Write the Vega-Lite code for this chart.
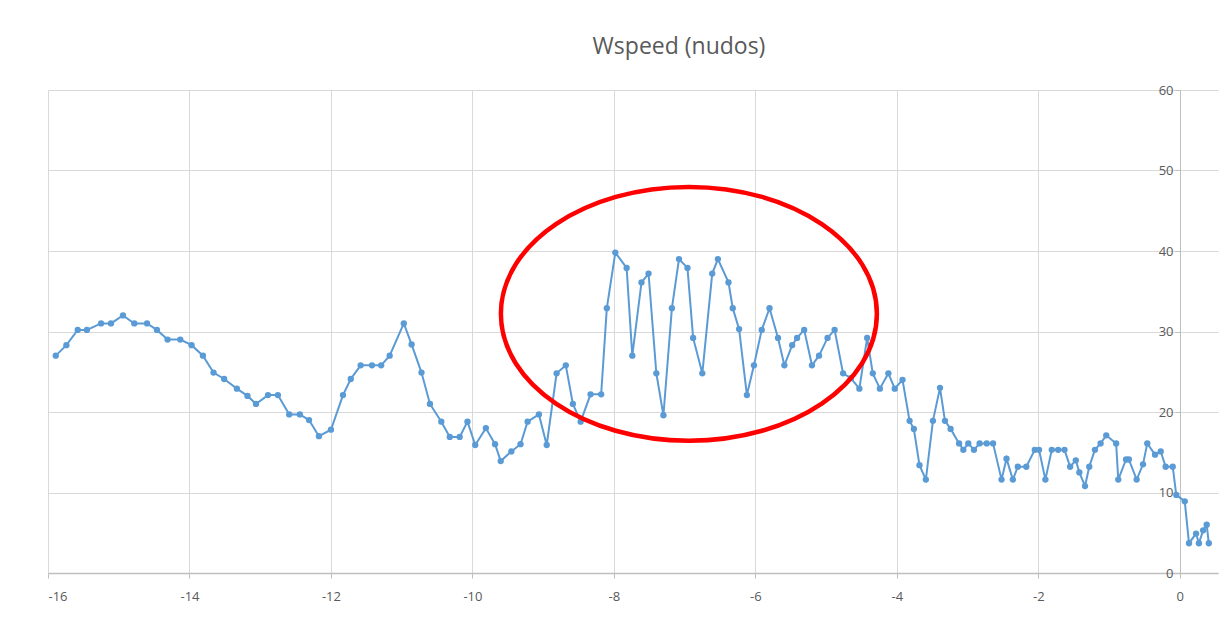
{
  "$schema": "https://vega.github.io/schema/vega-lite/v6.json",
  "width": 1170,
  "height": 483,
  "autosize": {"type": "none"},
  "padding": {"left": 48, "top": 90, "right": 5, "bottom": 45},
  "background": "white",
  "title": {"text": "Wspeed (nudos)", "fontSize": 23, "font": "Open Sans", "fontWeight": "normal", "color": "#595959", "offset": 25, "dx": 46},
  "config": {"view": {"stroke": null}},
  "datasets": {
    "wind": [
      {"t": -15.89, "v": 27.0}, {"t": -15.74, "v": 28.3}, {"t": -15.58, "v": 30.2}, {"t": -15.45, "v": 30.2},
      {"t": -15.25, "v": 31.0}, {"t": -15.11, "v": 31.0}, {"t": -14.94, "v": 32.0}, {"t": -14.78, "v": 31.0},
      {"t": -14.60, "v": 31.0}, {"t": -14.46, "v": 30.2}, {"t": -14.31, "v": 29.0}, {"t": -14.13, "v": 29.0},
      {"t": -13.97, "v": 28.3}, {"t": -13.81, "v": 27.0}, {"t": -13.66, "v": 24.9}, {"t": -13.51, "v": 24.1},
      {"t": -13.33, "v": 22.9}, {"t": -13.18, "v": 22.0}, {"t": -13.06, "v": 21.0}, {"t": -12.89, "v": 22.1},
      {"t": -12.75, "v": 22.1}, {"t": -12.59, "v": 19.7}, {"t": -12.44, "v": 19.7}, {"t": -12.31, "v": 19.0},
      {"t": -12.17, "v": 17.0}, {"t": -12.00, "v": 17.8}, {"t": -11.83, "v": 22.1}, {"t": -11.72, "v": 24.1},
      {"t": -11.58, "v": 25.8}, {"t": -11.42, "v": 25.8}, {"t": -11.29, "v": 25.8}, {"t": -11.17, "v": 27.0},
      {"t": -10.97, "v": 31.0}, {"t": -10.86, "v": 28.4}, {"t": -10.72, "v": 24.9}, {"t": -10.60, "v": 21.0},
      {"t": -10.44, "v": 18.8}, {"t": -10.32, "v": 16.9}, {"t": -10.18, "v": 16.9}, {"t": -10.07, "v": 18.8},
      {"t": -9.96, "v": 15.9}, {"t": -9.81, "v": 18.0}, {"t": -9.68, "v": 16.0}, {"t": -9.60, "v": 13.9},
      {"t": -9.45, "v": 15.1}, {"t": -9.32, "v": 16.0}, {"t": -9.22, "v": 18.8}, {"t": -9.06, "v": 19.7},
      {"t": -8.95, "v": 15.9}, {"t": -8.81, "v": 24.8}, {"t": -8.68, "v": 25.8}, {"t": -8.58, "v": 21.0},
      {"t": -8.47, "v": 18.8}, {"t": -8.33, "v": 22.2}, {"t": -8.18, "v": 22.2}, {"t": -8.10, "v": 32.9},
      {"t": -7.98, "v": 39.8}, {"t": -7.82, "v": 37.9}, {"t": -7.74, "v": 27.0}, {"t": -7.61, "v": 36.1},
      {"t": -7.51, "v": 37.2}, {"t": -7.40, "v": 24.8}, {"t": -7.30, "v": 19.6}, {"t": -7.18, "v": 32.9},
      {"t": -7.08, "v": 39.0}, {"t": -6.96, "v": 37.9}, {"t": -6.88, "v": 29.2}, {"t": -6.75, "v": 24.8},
      {"t": -6.61, "v": 37.2}, {"t": -6.53, "v": 39.0}, {"t": -6.38, "v": 36.1}, {"t": -6.32, "v": 32.9},
      {"t": -6.23, "v": 30.3}, {"t": -6.12, "v": 22.1}, {"t": -6.02, "v": 25.8}, {"t": -5.91, "v": 30.2},
      {"t": -5.80, "v": 32.9}, {"t": -5.68, "v": 29.2}, {"t": -5.59, "v": 25.8}, {"t": -5.48, "v": 28.3},
      {"t": -5.41, "v": 29.2}, {"t": -5.31, "v": 30.2}, {"t": -5.20, "v": 25.8}, {"t": -5.10, "v": 27.0},
      {"t": -4.98, "v": 29.2}, {"t": -4.88, "v": 30.2}, {"t": -4.76, "v": 24.8}, {"t": -4.65, "v": 24.2},
      {"t": -4.53, "v": 22.9}, {"t": -4.42, "v": 29.2}, {"t": -4.34, "v": 24.8}, {"t": -4.24, "v": 22.9},
      {"t": -4.12, "v": 24.8}, {"t": -4.03, "v": 22.9}, {"t": -3.92, "v": 24.0}, {"t": -3.82, "v": 18.9},
      {"t": -3.76, "v": 17.9}, {"t": -3.68, "v": 13.4}, {"t": -3.59, "v": 11.6}, {"t": -3.49, "v": 18.9},
      {"t": -3.39, "v": 23.0}, {"t": -3.32, "v": 18.9}, {"t": -3.24, "v": 17.9}, {"t": -3.12, "v": 16.1},
      {"t": -3.06, "v": 15.3}, {"t": -2.99, "v": 16.1}, {"t": -2.91, "v": 15.3}, {"t": -2.83, "v": 16.1},
      {"t": -2.73, "v": 16.1}, {"t": -2.64, "v": 16.1}, {"t": -2.52, "v": 11.6}, {"t": -2.45, "v": 14.2},
      {"t": -2.36, "v": 11.6}, {"t": -2.29, "v": 13.2}, {"t": -2.17, "v": 13.2}, {"t": -2.05, "v": 15.3},
      {"t": -1.99, "v": 15.3}, {"t": -1.90, "v": 11.6}, {"t": -1.81, "v": 15.3}, {"t": -1.72, "v": 15.3},
      {"t": -1.63, "v": 15.3}, {"t": -1.55, "v": 13.2}, {"t": -1.47, "v": 14.0}, {"t": -1.42, "v": 12.5},
      {"t": -1.34, "v": 10.8}, {"t": -1.28, "v": 13.2}, {"t": -1.20, "v": 15.3}, {"t": -1.12, "v": 16.1},
      {"t": -1.04, "v": 17.1}, {"t": -0.90, "v": 16.1}, {"t": -0.87, "v": 11.6}, {"t": -0.76, "v": 14.1},
      {"t": -0.72, "v": 14.1}, {"t": -0.61, "v": 11.6}, {"t": -0.52, "v": 13.5}, {"t": -0.46, "v": 16.1},
      {"t": -0.35, "v": 14.7}, {"t": -0.27, "v": 15.1}, {"t": -0.20, "v": 13.2}, {"t": -0.10, "v": 13.2},
      {"t": -0.05, "v": 9.7}, {"t": 0.07, "v": 8.9}, {"t": 0.13, "v": 3.7}, {"t": 0.23, "v": 4.9},
      {"t": 0.27, "v": 3.7}, {"t": 0.33, "v": 5.3}, {"t": 0.38, "v": 6.0}, {"t": 0.41, "v": 3.7}
    ],
    "highlight": [{"t": -6.94, "v": 32.2}]
  },
  "layer": [
    {
      "data": {"name": "wind"},
      "mark": {"type": "line", "color": "#5B9BD5", "strokeWidth": 2,
        "point": {"filled": true, "size": 40, "color": "#5B9BD5", "opacity": 1}},
      "encoding": {
        "x": {"field": "t", "type": "quantitative",
          "scale": {"domain": [-16, 0.54], "nice": false, "zero": false},
          "axis": {"title": null, "values": [-16, -14, -12, -10, -8, -6, -4, -2, 0],
            "labelExpr": "'' + datum.value", "grid": true, "gridColor": "#d9d9d9", "gridWidth": 1,
            "domainColor": "#bfbfbf", "domainWidth": 1.5, "tickColor": "#bfbfbf", "tickSize": 5,
            "labelFont": "Open Sans", "labelFontSize": 13, "labelColor": "#595959", "labelPadding": 12}},
        "y": {"field": "v", "type": "quantitative",
          "scale": {"domain": [0, 60], "nice": false},
          "axis": {"title": null, "orient": "left", "offset": -1132, "values": [0, 10, 20, 30, 40, 50, 60],
            "grid": true, "gridColor": "#d9d9d9", "gridWidth": 1,
            "domainColor": "#bfbfbf", "domainWidth": 1, "tickColor": "#bfbfbf", "tickSize": 5,
            "labelFont": "Open Sans", "labelFontSize": 13, "labelColor": "#595959", "labelPadding": 2}}
      }
    },
    {
      "data": {"name": "highlight"},
      "mark": {"type": "point", "shape": "M-1,0 A1,0.675 0 1,1 1,0 A1,0.675 0 1,1 -1,0 Z",
        "size": 141376, "filled": false, "stroke": "#FF0000", "strokeWidth": 4.5, "opacity": 1},
      "encoding": {
        "x": {"field": "t", "type": "quantitative"},
        "y": {"field": "v", "type": "quantitative"}
      }
    }
  ]
}
